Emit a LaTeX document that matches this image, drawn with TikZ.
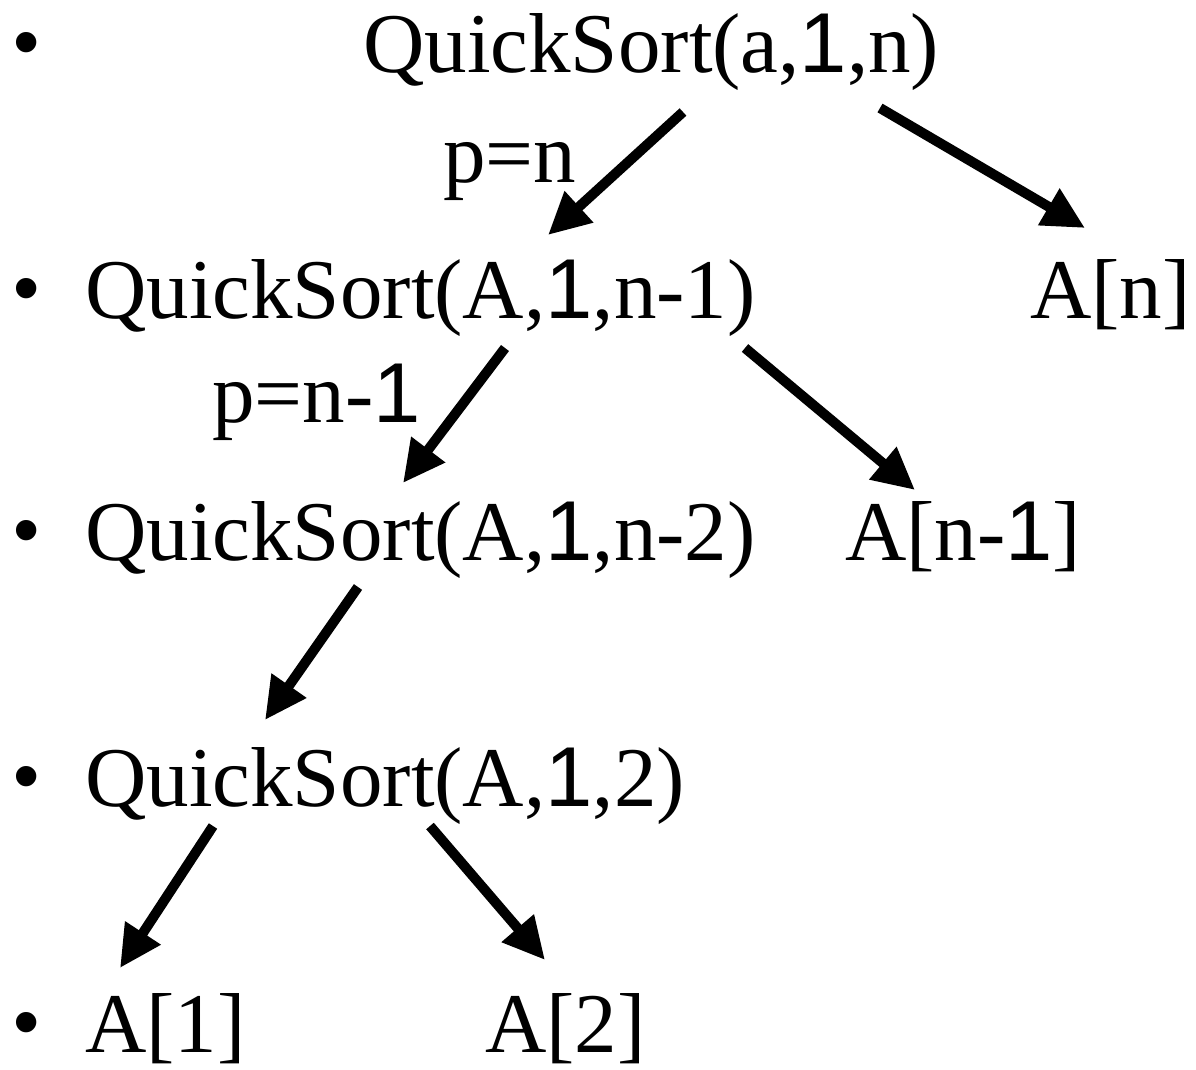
\documentclass[tikz,border=0pt]{standalone}
\usepackage{fontspec}
\setmainfont{Liberation Serif}
\newfontfamily\arialfont{Liberation Sans}
\usetikzlibrary{arrows.meta}
\newcommand{\aone}{{\arialfont 1}}
\begin{document}
\begin{tikzpicture}[x=1pt,y=-1pt,
  txt/.style={anchor=base west,inner sep=0pt,font=\fontsize{85}{100}\selectfont},
  bul/.style={anchor=base west,inner sep=0pt,font=\arialfont\fontsize{75}{85}\selectfont},
  arr/.style={line width=10pt,-{Triangle[length=42pt,width=40pt]}}]
\useasboundingbox (0,0) rectangle (1196,1069);
% bullets
\node[bul] (b1) at (13,67) {•};
\node[bul] (b2) at (13,313) {•};
\node[bul] (b3) at (13,555) {•};
\node[bul] (b4) at (13,801) {•};
\node[bul] (b5) at (13,1047) {•};
% texts
\node[txt] (q1) at (363,72) {QuickSort(a,\aone,n)};
\node[txt] (l1) at (443,182) {p=n};
\node[txt] (q2) at (85,318) {QuickSort(A,\aone,n-1)};
\node[txt] (an) at (1030,318) {A[n]};
\node[txt] (l2) at (212,422) {p=n-\aone};
\node[txt] (q3) at (85,560) {QuickSort(A,\aone,n-2)};
\node[txt] (an1) at (845,560) {A[n-\aone]};
\node[txt] (q4) at (85,806) {QuickSort(A,\aone,2)};
\node[txt] (a1) at (85,1052) {A[1]};
\node[txt] (a2) at (485,1052) {A[2]};
% connector end points
\coordinate (s1) at (683,112); \coordinate (e1) at (548,235);
\coordinate (s2) at (880,108); \coordinate (e2) at (1085,228);
\coordinate (s3) at (505,348); \coordinate (e3) at (403,483);
\coordinate (s4) at (745,348); \coordinate (e4) at (915,490);
\coordinate (s5) at (358,587); \coordinate (e5) at (265,720);
\coordinate (s6) at (213,826); \coordinate (e6) at (120,968);
\coordinate (s7) at (430,826); \coordinate (e7) at (545,960);
\draw[arr] (s1) -- (e1);
\draw[arr] (s2) -- (e2);
\draw[arr] (s3) -- (e3);
\draw[arr] (s4) -- (e4);
\draw[arr] (s5) -- (e5);
\draw[arr] (s6) -- (e6);
\draw[arr] (s7) -- (e7);
\end{tikzpicture}
\end{document}
